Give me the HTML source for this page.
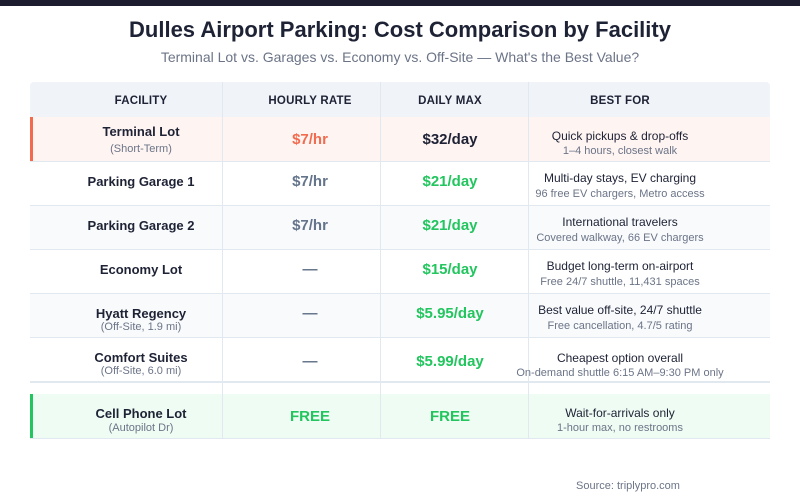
<!DOCTYPE html>
<html><head><meta charset="utf-8"><style>
*{margin:0;padding:0;box-sizing:border-box}
body{width:800px;height:500px;background:#fff;font-family:"Liberation Sans",Arial,sans-serif;position:relative;overflow:hidden}
.a{position:absolute}
.c{position:absolute;transform:translateX(-50%);white-space:nowrap;text-align:center}
.n{font-size:13px;font-weight:bold;color:#1e2235}
.s{font-size:11px;color:#6b7487}
.h{font-size:11.5px;font-weight:bold;color:#1e2235;letter-spacing:.2px}
.v{font-size:15px;font-weight:bold}
.b{font-size:12px;color:#1e2235}
.g{color:#22c55e}.gr{color:#64748b}.o{color:#f26b4f}.k{color:#1e2235}
.vl{position:absolute;width:1px;background:#e2e8f0}
.hl{position:absolute;left:30px;width:740px;height:1px;background:#e2e8f0}
</style></head><body>
<div class="a" style="left:0;top:0;width:800px;height:6px;background:#1c1c2e"></div>
<div class="c" style="left:400px;top:17px;font-size:22px;font-weight:bold;color:#1e2235">Dulles Airport Parking: Cost Comparison by Facility</div>
<div class="c" style="left:400px;top:49px;font-size:14px;color:#6b7487">Terminal Lot vs. Garages vs. Economy vs. Off-Site — What's the Best Value?</div>

<div class="a" style="left:30px;top:82px;width:740px;height:35px;background:#f0f3f8;border-radius:4px 4px 0 0"></div>
<div class="a" style="left:30px;top:117px;width:740px;height:44px;background:#fef4f2"></div>
<div class="a" style="left:30px;top:117px;width:3px;height:44px;background:#f26b4f"></div>
<div class="a" style="left:30px;top:205px;width:740px;height:44px;background:#f8fafc"></div>
<div class="a" style="left:30px;top:293px;width:740px;height:44px;background:#f8fafc"></div>
<div class="a" style="left:30px;top:394px;width:740px;height:44px;background:#effcf3"></div>
<div class="a" style="left:30px;top:394px;width:3px;height:44px;background:#22c55e"></div>

<div class="hl" style="top:161px"></div><div class="hl" style="top:205px"></div><div class="hl" style="top:249px"></div>
<div class="hl" style="top:293px"></div><div class="hl" style="top:337px"></div><div class="hl" style="top:381px;height:2px"></div>
<div class="hl" style="top:438px"></div>
<div class="vl" style="left:222px;top:82px;height:356px"></div>
<div class="vl" style="left:380px;top:82px;height:356px"></div>
<div class="vl" style="left:528px;top:82px;height:356px"></div>

<div class="c h" style="left:141px;top:95px">FACILITY</div>
<div class="c h" style="left:310px;top:95px">HOURLY RATE</div>
<div class="c h" style="left:450px;top:95px">DAILY MAX</div>
<div class="c h" style="left:620px;top:95px">BEST FOR</div>

<!-- Terminal -->
<div class="c n" style="left:141px;top:124px">Terminal Lot</div>
<div class="c s" style="left:141px;top:143px">(Short-Term)</div>
<div class="c v o" style="left:310px;top:131px">$7/hr</div>
<div class="c v k" style="left:450px;top:131px">$32/day</div>
<div class="c b" style="left:620px;top:129px">Quick pickups &amp; drop-offs</div>
<div class="c s" style="left:620px;top:145px">1–4 hours, closest walk</div>
<!-- G1 -->
<div class="c n" style="left:141px;top:174px">Parking Garage 1</div>
<div class="c v gr" style="left:310px;top:173px">$7/hr</div>
<div class="c v g" style="left:450px;top:173px">$21/day</div>
<div class="c b" style="left:620px;top:171px">Multi-day stays, EV charging</div>
<div class="c s" style="left:620px;top:188px">96 free EV chargers, Metro access</div>
<!-- G2 -->
<div class="c n" style="left:141px;top:218px">Parking Garage 2</div>
<div class="c v gr" style="left:310px;top:217px">$7/hr</div>
<div class="c v g" style="left:450px;top:217px">$21/day</div>
<div class="c b" style="left:620px;top:215px">International travelers</div>
<div class="c s" style="left:620px;top:232px">Covered walkway, 66 EV chargers</div>
<!-- Economy -->
<div class="c n" style="left:141px;top:262px">Economy Lot</div>
<div class="c v gr" style="left:310px;top:261px">—</div>
<div class="c v g" style="left:450px;top:261px">$15/day</div>
<div class="c b" style="left:620px;top:259px">Budget long-term on-airport</div>
<div class="c s" style="left:620px;top:276px">Free 24/7 shuttle, 11,431 spaces</div>
<!-- Hyatt -->
<div class="c n" style="left:141px;top:306px">Hyatt Regency</div>
<div class="c s" style="left:141px;top:321px">(Off-Site, 1.9 mi)</div>
<div class="c v gr" style="left:310px;top:305px">—</div>
<div class="c v g" style="left:450px;top:305px">$5.95/day</div>
<div class="c b" style="left:620px;top:303px">Best value off-site, 24/7 shuttle</div>
<div class="c s" style="left:620px;top:320px">Free cancellation, 4.7/5 rating</div>
<!-- Comfort -->
<div class="c n" style="left:141px;top:350px">Comfort Suites</div>
<div class="c s" style="left:141px;top:365px">(Off-Site, 6.0 mi)</div>
<div class="c v gr" style="left:310px;top:353px">—</div>
<div class="c v g" style="left:450px;top:353px">$5.99/day</div>
<div class="c b" style="left:620px;top:351px">Cheapest option overall</div>
<div class="c s" style="left:620px;top:367px">On-demand shuttle 6:15 AM–9:30 PM only</div>
<!-- Cell -->
<div class="c n" style="left:141px;top:406px">Cell Phone Lot</div>
<div class="c s" style="left:141px;top:422px">(Autopilot Dr)</div>
<div class="c v g" style="left:310px;top:408px">FREE</div>
<div class="c v g" style="left:450px;top:408px">FREE</div>
<div class="c b" style="left:620px;top:406px">Wait-for-arrivals only</div>
<div class="c s" style="left:620px;top:422px">1-hour max, no restrooms</div>

<div class="c" style="left:628px;top:480px;font-size:11px;color:#6b7487">Source: triplypro.com</div>
</body></html>
